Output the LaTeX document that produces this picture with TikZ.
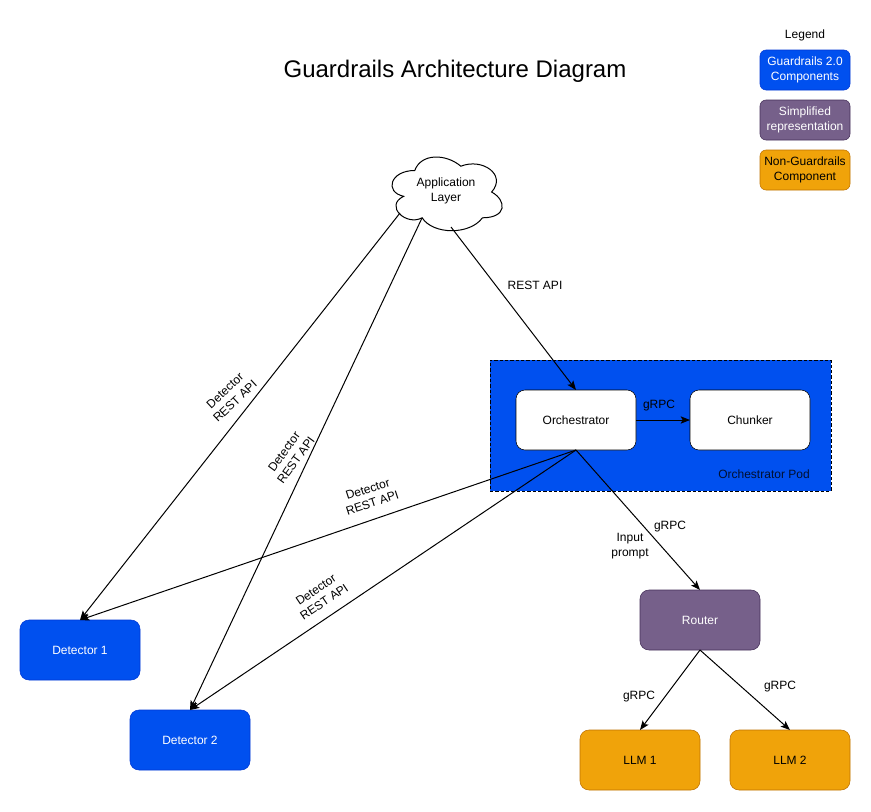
\documentclass[tikz,border=0pt]{standalone}
\usepackage{fontspec}
\setmainfont{Liberation Sans}
\usetikzlibrary{shapes,arrows.meta,calc,positioning}

\definecolor{guardblue}{HTML}{0050EF}
\definecolor{guardblueline}{HTML}{001DBC}
\definecolor{simplepurple}{HTML}{76608A}
\definecolor{simplepurpleline}{HTML}{432D57}
\definecolor{nonorange}{HTML}{F0A30A}
\definecolor{nonorangeline}{HTML}{BD7000}

\tikzset{
  box/.style={rectangle, rounded corners=6.75pt, minimum width=90pt, minimum height=45pt, inner sep=0pt, outer sep=0pt, font=\fontsize{9}{11}\selectfont, align=center},
  bluebox/.style={box, draw=guardblue!50!guardblueline, fill=guardblue, text=white},
  purplebox/.style={box, draw=simplepurpleline, fill=simplepurple, text=white},
  orangebox/.style={box, draw=nonorangeline, fill=nonorange, text=black},
  whitebox/.style={box, draw=black, fill=white, text=black},
  legendbox/.style={minimum width=67.5pt, minimum height=30pt, rounded corners=4.5pt},
  conn/.style={draw=black, line width=.75pt, -{Stealth[length=7pt, width=5.5pt, inset=1.5pt]}},
  lbl/.style={inner sep=0pt, font=\fontsize{9}{11}\selectfont, align=center}
}

\begin{document}
\begin{tikzpicture}[x=.75pt, y=-.75pt]
  \useasboundingbox (0,0) rectangle (871,811);

  \node[inner sep=0pt, font=\fontsize{18}{22}\selectfont] (title) at (455,71) {Guardrails Architecture Diagram};

  % legend
  \node[lbl] (legend) at (805,35.5) {Legend};
  \node[bluebox, legendbox] (leg1) at (805,70) {Guardrails 2.0\\Components};
  \node[purplebox, legendbox, below=7.5pt of leg1] (leg2) {Simplified\\representation};
  \node[orangebox, legendbox, below=7.5pt of leg2] (leg3) {Non-Guardrails\\Component};

  % pod
  \node[draw=black, line width=.5pt, dash pattern=on 2.5pt off 1.5pt, fill=guardblue, minimum width=255.75pt, minimum height=98.25pt, inner sep=0pt, outer sep=0pt] (pod) at (660.5,425.5) {};
  \node[whitebox] (orch) at (576,420) {Orchestrator};
  \node[whitebox, right=40.5pt of orch] (chunker) {Chunker};
  \node[lbl, text=black!80!guardblue] (podlabel) at (764,474) {Orchestrator Pod};

  % cloud
  \begin{scope}[shift={(384,149)}, x=92.25pt, y=-64.5pt]
    \draw[line width=.75pt, fill=white] (.25,.25) .. controls (.05,.25) and (0,.5) .. (.16,.55)
      .. controls (0,.66) and (.18,.9) .. (.31,.8)
      .. controls (.4,1) and (.7,1) .. (.8,.8)
      .. controls (1,.8) and (1,.6) .. (.875,.5)
      .. controls (1,.3) and (.8,.1) .. (.625,.2)
      .. controls (.5,.05) and (.3,.05) .. (.25,.25) -- cycle;
  \end{scope}
  \node[lbl] (app) at (446,191) {Application\\Layer};
  \coordinate (appa) at (400,213);
  \coordinate (appb) at (422,218);
  \coordinate (appc) at (451,227);

  % bottom row
  \node[bluebox] (det1) at (80,650) {Detector 1};
  \node[bluebox] (det2) at (190,740) {Detector 2};
  \node[purplebox] (router) at (700,620) {Router};
  \node[orangebox] (llm1) at (640,760) {LLM 1};
  \node[orangebox] (llm2) at (790,760) {LLM 2};

  \draw[conn] (appa) -- (det1.north);
  \draw[conn] (appb) -- (det2.north);
  \draw[conn] (appc) -- (orch.north);
  \draw[conn] (orch) -- (chunker);
  \draw[conn] (orch.south) -- (det1.north);
  \draw[conn] (orch.south) -- (det2.north);
  \draw[conn] (orch.south) -- (router.north);
  \draw[conn] (router.south) -- (llm1.north);
  \draw[conn] (router.south) -- (llm2.north);

  % labels
  \node[lbl] (restapi) at (535,285) {REST API};
  \node[lbl, rotate=43] (lbla) at (230,396) {Detector\\REST API};
  \node[lbl, rotate=54] (lblb) at (290,456) {Detector\\REST API};
  \node[lbl, rotate=18] (lblc) at (370,496) {Detector\\REST API};
  \node[lbl, rotate=34] (lbld) at (320,596) {Detector\\REST API};
  \node[lbl] (grpca) at (659,406) {gRPC};
  \node[lbl] (grpcb) at (670,526.5) {gRPC};
  \node[lbl] (prompt) at (630,546) {Input\\prompt};
  \node[lbl] (grpcc) at (639,696.5) {gRPC};
  \node[lbl] (grpcd) at (780,686.5) {gRPC};
\end{tikzpicture}
\end{document}
